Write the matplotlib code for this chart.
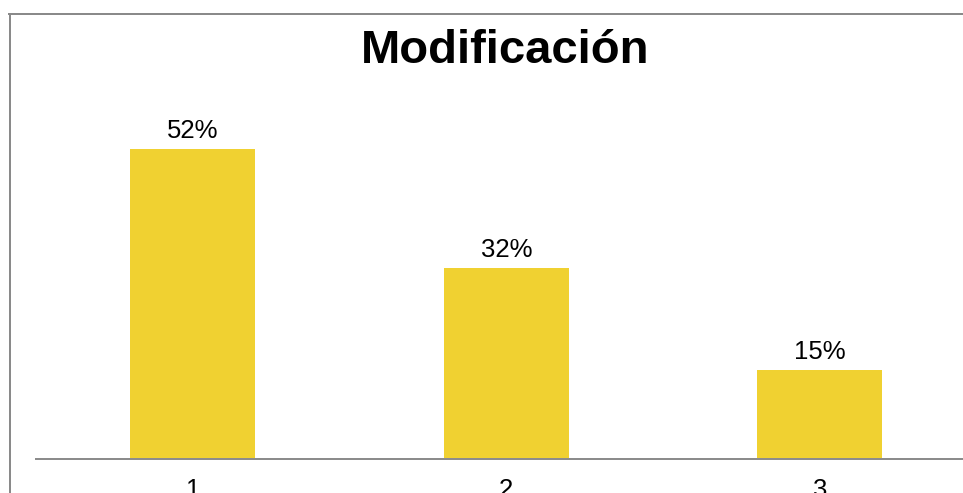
import matplotlib
matplotlib.use("Agg")
import matplotlib.pyplot as plt
from matplotlib.lines import Line2D

plt.rcParams['font.family'] = ['Liberation Sans', 'DejaVu Sans']

categories = ["1", "2", "3"]
values = [52, 32, 15]
value_labels = ["52%", "32%", "15%"]
title = "Modificación"

W, H, DPI = 963, 493, 100
fig = plt.figure(figsize=(W / DPI, H / DPI), dpi=DPI)
fig.patch.set_facecolor("white")

# axes placed in pixel units; the plot area runs past the right edge
left_px, right_px = 36, 976.5
base_px = 459
px_per_pct = 5.96
ymax = 60
ax = fig.add_axes([left_px / W, (H - base_px) / H,
                   (right_px - left_px) / W, ymax * px_per_pct / H])
ax.set_facecolor("none")

x = range(len(categories))
bars = ax.bar(x, values, width=0.4, color="#F0D131", zorder=2)
ax.set_xlim(-0.5, len(categories) - 0.5)
ax.set_ylim(0, ymax)

for xi, v, lab in zip(x, values, value_labels):
    ax.annotate(lab, (xi, v), xytext=(0, 11 * 72 / DPI), textcoords="offset points",
                ha="center", va="baseline", fontsize=18.5, color="black")

for s in ["top", "right", "left"]:
    ax.spines[s].set_visible(False)
ax.spines["bottom"].set_color("#8c8c8c")
ax.spines["bottom"].set_linewidth(2 * 72 / DPI)
ax.set_yticks([])
ax.set_xticks(list(x))
ax.set_xticklabels(categories, fontsize=18.5)
ax.tick_params(axis="x", length=0, pad=13.5)

fig.text(505 / W, (H - 63) / H, title, ha="center", va="baseline",
         fontsize=34, fontweight="bold", color="black")

# frame edges along the top and left
lw = 2 * 72 / DPI
fig.add_artist(Line2D([9 / W, 962 / W], [(H - 14) / H, (H - 14) / H],
                      transform=fig.transFigure, color="#8a8a8a", linewidth=lw))
fig.add_artist(Line2D([9.5 / W, 9.5 / W], [(H - 14) / H, 0],
                      transform=fig.transFigure, color="#8a8a8a", linewidth=lw))

fig.savefig("out.png", dpi=DPI)
